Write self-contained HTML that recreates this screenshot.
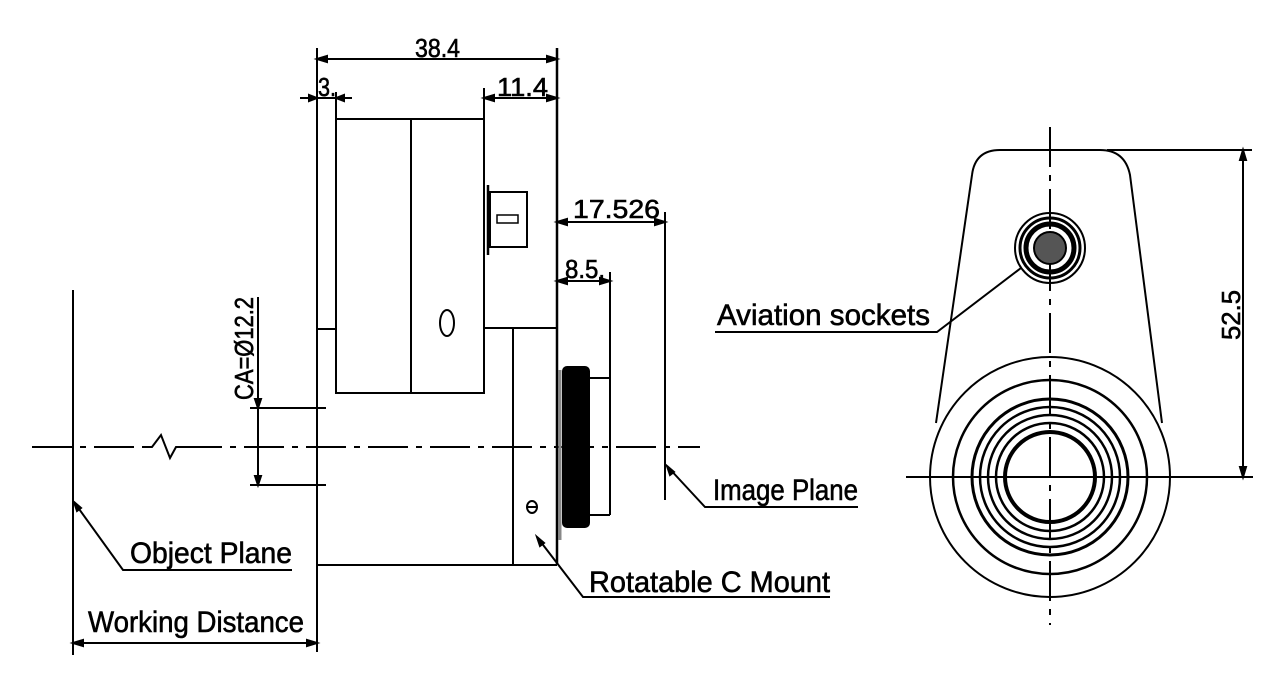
<!DOCTYPE html>
<html><head><meta charset="utf-8"><style>
html,body{margin:0;padding:0;background:#fff;}
svg{display:block;}
text{font-family:"Liberation Sans Narrow","Liberation Sans",sans-serif;fill:#000;stroke:#000;stroke-width:0.6;}
</style></head><body>
<svg width="1280" height="678" viewBox="0 0 1280 678" xmlns="http://www.w3.org/2000/svg">
<g stroke="#000" stroke-width="2" fill="none">
<!-- centerline left view -->
<path d="M32 447H148" stroke-dasharray="40 8 6 8"/>
<path d="M148 447H152L161 435L170 458L176 447H182"/>
<path d="M182 447H700" stroke-dasharray="40 8 6 8"/>
<!-- object plane -->
<line x1="73" y1="290" x2="73" y2="655"/>
<!-- working distance -->
<line x1="317" y1="48" x2="317" y2="652"/>
<line x1="73" y1="643" x2="317" y2="643"/>
<path d="M73 643l10-3v6zM317 643l-10-3v6z" fill="#000"/>
<!-- plate -->
<line x1="336" y1="92" x2="336" y2="329"/>
<line x1="317" y1="329" x2="336" y2="329"/>
<!-- body -->
<rect x="336" y="119" width="148" height="274"/>
<line x1="411" y1="119" x2="411" y2="393"/>
<ellipse cx="447" cy="323" rx="7" ry="13"/>
<!-- right block -->
<line x1="484" y1="88" x2="484" y2="328"/>
<line x1="557" y1="48" x2="557" y2="565" stroke-width="2.5"/>
<line x1="484" y1="328" x2="557" y2="328"/>
<line x1="513" y1="328" x2="513" y2="565"/>
<line x1="317" y1="565" x2="557" y2="565"/>
<rect x="490" y="192" width="37" height="55"/>
<line x1="488" y1="185" x2="488" y2="255" stroke-width="2.5"/>
<rect x="497" y="215" width="21" height="8" stroke-width="1.5"/>
<!-- theta symbol -->
<ellipse cx="532" cy="507" rx="5" ry="6"/>
<line x1="527" y1="507" x2="537" y2="507"/>
<!-- 38.4 -->
<line x1="317" y1="59" x2="557" y2="59"/>
<path d="M317 59l10-3v6zM557 59l-10-3v6z" fill="#000"/>
<!-- 3. -->
<line x1="300" y1="98" x2="352" y2="98"/>
<path d="M317 98l-8-3v6zM336 98l8-3v6z" fill="#000"/>
<!-- 11.4 -->
<line x1="484" y1="98" x2="557" y2="98"/>
<path d="M484 98l10-3v6zM557 98l-10-3v6z" fill="#000"/>
<!-- 17.526 -->
<line x1="557" y1="222" x2="665" y2="222"/>
<line x1="665" y1="212" x2="665" y2="500"/>
<path d="M557 222l10-3v6zM665 222l-10-3v6z" fill="#000"/>
<!-- 8.5 -->
<line x1="557" y1="281" x2="610" y2="281"/>
<path d="M557 281l10-3v6zM610 281l-10-3v6z" fill="#000"/>
<line x1="610" y1="272" x2="610" y2="515"/>
<line x1="590" y1="378" x2="610" y2="378"/>
<line x1="590" y1="515" x2="610" y2="515"/>
<line x1="560" y1="370" x2="560" y2="540" stroke="#888" stroke-width="3"/>
<rect x="563" y="367" width="26" height="160" rx="4" fill="#000"/>
<!-- CA dim -->
<line x1="250" y1="408" x2="326" y2="408"/>
<line x1="250" y1="485" x2="326" y2="485"/>
<line x1="258" y1="297" x2="258" y2="485"/>
<path d="M258 408l-3-9h6zM258 485l-3-9h6z" fill="#000"/>
<!-- leaders -->
<path d="M74 502L123 570H292"/>
<path d="M74 502l3 9 4-3z" fill="#000"/>
<path d="M537 537L583 597H830"/>
<path d="M537 537l3 9 4-3z" fill="#000"/>
<path d="M667 466L705 507H858"/>
<path d="M667 466l3 9 4-3z" fill="#000"/>
<path d="M1021 268L937 332H715"/>
<!-- right view -->
<line x1="1050" y1="127" x2="1050" y2="625" stroke-dasharray="40 8 6 8"/>
<line x1="906" y1="477" x2="1253" y2="477"/>
<path d="M936 423L972 175Q975 150 1000 150H1100Q1125 150 1130 175L1162 423"/>
<line x1="1107" y1="150" x2="1252" y2="150"/>
<line x1="1243" y1="150" x2="1243" y2="477"/>
<path d="M1243 150l-3 10h6zM1243 477l-3-10h6z" fill="#000"/>
<circle cx="1050" cy="248" r="35"/>
<circle cx="1050" cy="248" r="30" stroke-width="3"/>
<circle cx="1050" cy="248" r="24" stroke-width="5"/>
<circle cx="1050" cy="248" r="16" fill="#555" stroke-width="2"/>
<circle cx="1050" cy="477" r="120"/>
<circle cx="1050" cy="477" r="97" stroke-width="2.5"/>
<circle cx="1050" cy="477" r="78" stroke-width="3"/>
<circle cx="1050" cy="477" r="70" stroke-width="2.5"/>
<circle cx="1050" cy="477" r="62" stroke-width="2.5"/>
<circle cx="1050" cy="477" r="54" stroke-width="2.5"/>
<circle cx="1050" cy="477" r="45" stroke-width="4"/>
</g>
<g font-size="26">
<text x="415" y="57" textLength="45" lengthAdjust="spacingAndGlyphs">38.4</text>
<text x="318" y="96" textLength="18" lengthAdjust="spacingAndGlyphs">3.</text>
<text x="497" y="96" textLength="51" lengthAdjust="spacingAndGlyphs">11.4</text>
<text x="573" y="218" textLength="87" lengthAdjust="spacingAndGlyphs">17.526</text>
<text x="565" y="278" textLength="40" lengthAdjust="spacingAndGlyphs">8.5.</text>
<text transform="translate(253 400) rotate(-90)" x="0" y="0" textLength="103" lengthAdjust="spacingAndGlyphs">CA=Ø12.2</text>
<text transform="translate(1240 340) rotate(-90)" x="0" y="0" textLength="50" lengthAdjust="spacingAndGlyphs">52.5</text>
</g>
<g font-size="30">
<text x="130" y="563" textLength="162" lengthAdjust="spacingAndGlyphs">Object Plane</text>
<text x="88" y="632" textLength="216" lengthAdjust="spacingAndGlyphs">Working Distance</text>
<text x="589" y="592" textLength="241" lengthAdjust="spacingAndGlyphs">Rotatable C Mount</text>
<text x="713" y="500" textLength="145" lengthAdjust="spacingAndGlyphs">Image Plane</text>
<text x="717" y="325" textLength="213" lengthAdjust="spacingAndGlyphs">Aviation sockets</text>
</g>
</svg>
</body></html>
